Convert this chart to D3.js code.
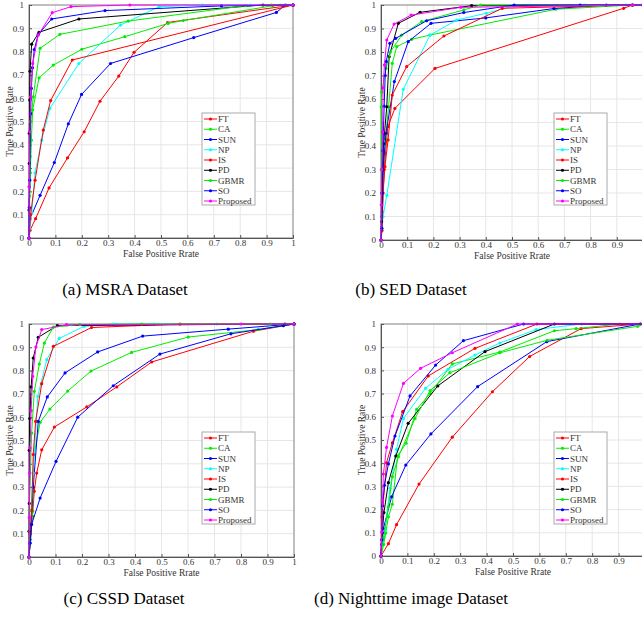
<!DOCTYPE html>
<meta charset="utf-8">
<html>
<head>
<title>ROC curves</title>
<style>
  body { margin: 0; background: #fff; }
</style>
</head>
<body>
<svg width="642" height="622" font-family="'Liberation Serif', 'Times New Roman', serif"></svg>
<script src="https://cdnjs.cloudflare.com/ajax/libs/d3/7.8.5/d3.min.js"></script>
<script>

// methods, in legend order
var methods = ["FT", "CA", "SUN", "NP", "IS", "PD", "GBMR", "SO", "Proposed"];
var colors  = ["#ff0000", "#00ee00", "#0000ff", "#00ffff", "#ff0000", "#000000", "#00ee00", "#0000ff", "#ff00ff"];

var ticks = [0, 0.1, 0.2, 0.3, 0.4, 0.5, 0.6, 0.7, 0.8, 0.9, 1];
var captions = ["(a) MSRA Dataset", "(b) SED Dataset", "(c) CSSD Dataset", "(d) Nighttime image Dataset"];

// [fpr, tpr] points, one list per method (same order as methods)
var msra = [
  [[0,0],[0.004,0.033],[0.025,0.083],[0.076,0.215],[0.146,0.344],[0.209,0.456],[0.269,0.587],[0.34,0.695],[0.398,0.797],[0.525,0.925],[1,1]],
  [[0,0],[0.002,0.13],[0.005,0.28],[0.009,0.42],[0.014,0.55],[0.038,0.687],[0.092,0.742],[0.2,0.81],[0.363,0.864],[0.527,0.921],[0.584,0.933],[0.924,0.997],[1,1]],
  [[0,0],[0.004,0.083],[0.042,0.183],[0.096,0.324],[0.149,0.49],[0.199,0.616],[0.309,0.749],[0.624,0.86],[0.937,0.968],[0.971,1],[1,1]],
  [[0,0],[0.01,0.105],[0.023,0.28],[0.048,0.42],[0.079,0.556],[0.189,0.749],[0.347,0.914],[0.493,0.993],[0.657,1],[0.839,1],[0.952,1],[1,1]],
  [[0,0],[0.006,0.1],[0.023,0.248],[0.054,0.463],[0.082,0.59],[0.164,0.764],[1,1]],
  [[0,0],[0,0.12],[0.001,0.22],[0.001,0.32],[0.001,0.45],[0.003,0.592],[0.004,0.716],[0.01,0.832],[0.038,0.883],[0.189,0.94],[0.886,1],[1,1]],
  [[0,0],[0.002,0.18],[0.004,0.35],[0.007,0.5],[0.016,0.606],[0.042,0.814],[0.117,0.874],[0.376,0.931],[0.82,0.997],[0.918,1],[1,1]],
  [[0,0],[0.001,0.13],[0.003,0.248],[0.006,0.534],[0.009,0.642],[0.013,0.731],[0.02,0.809],[0.035,0.874],[0.086,0.94],[0.288,0.976],[0.729,0.996],[1,1]],
  [[0,0],[0.001,0.22],[0.003,0.456],[0.006,0.606],[0.014,0.749],[0.035,0.871],[0.088,0.967],[0.159,0.993],[0.382,1],[1,1]]
];

var sed = [
  [[0,0],[0.005,0.12],[0.012,0.3],[0.026,0.482],[0.053,0.56],[0.206,0.73],[0.926,0.986],[0.96,1],[1,1]],
  [[0,0],[0.003,0.15],[0.008,0.3],[0.017,0.43],[0.029,0.567],[0.043,0.752],[0.06,0.823],[0.117,0.854],[0.187,0.872],[0.667,0.982],[0.96,1],[1,1]],
  [[0,0],[0.003,0.1],[0.008,0.3],[0.019,0.454],[0.051,0.674],[0.104,0.844],[0.191,0.922],[0.4,0.945],[0.66,0.985],[0.86,1],[1,1]],
  [[0,0],[0.004,0.05],[0.008,0.1],[0.022,0.19],[0.085,0.641],[0.187,0.872],[0.289,0.936],[0.402,0.965],[0.508,0.996],[0.78,1],[0.935,1],[1,1]],
  [[0,0],[0.004,0.04],[0.008,0.2],[0.015,0.312],[0.027,0.426],[0.043,0.617],[0.098,0.738],[0.24,0.868],[0.463,0.986],[0.96,1],[1,1]],
  [[0,0],[0.002,0.078],[0.004,0.2],[0.007,0.3],[0.01,0.41],[0.022,0.567],[0.031,0.78],[0.066,0.922],[0.149,0.969],[0.346,0.997],[0.96,1],[1,1]],
  [[0,0],[0.001,0.3],[0.001,0.567],[0.003,0.63],[0.019,0.73],[0.036,0.8],[0.079,0.872],[0.155,0.929],[0.316,0.979],[0.38,1],[0.96,1],[1,1]],
  [[0,0],[0.003,0.05],[0.004,0.2],[0.007,0.38],[0.012,0.57],[0.016,0.7],[0.02,0.76],[0.034,0.837],[0.056,0.858],[0.174,0.933],[0.316,0.968],[0.508,1],[0.76,1],[1,1]],
  [[0,0],[0.001,0.15],[0.003,0.3],[0.006,0.46],[0.008,0.647],[0.013,0.745],[0.022,0.851],[0.05,0.919],[0.115,0.957],[0.305,0.99],[0.96,1],[1,1]]
];

var cssd = [
  [[0,0],[0.013,0.175],[0.02,0.282],[0.029,0.36],[0.048,0.46],[0.096,0.558],[0.218,0.644],[0.331,0.73],[0.463,0.837],[0.847,0.969],[1,1]],
  [[0,0],[0.006,0.075],[0.014,0.196],[0.019,0.44],[0.042,0.578],[0.079,0.635],[0.146,0.712],[0.234,0.798],[0.387,0.878],[0.601,0.944],[0.865,0.976],[1,1]],
  [[0,0],[0.004,0.06],[0.016,0.3],[0.035,0.582],[0.069,0.687],[0.136,0.79],[0.259,0.88],[0.429,0.948],[0.752,0.978],[1,1]],
  [[0,0],[0.004,0.13],[0.016,0.36],[0.033,0.69],[0.067,0.847],[0.114,0.938],[0.208,0.99],[0.318,1],[0.472,1],[0.708,1],[1,1]],
  [[0,0],[0.004,0.1],[0.01,0.2],[0.016,0.44],[0.025,0.582],[0.048,0.744],[0.092,0.904],[0.236,0.985],[0.57,1],[1,1]],
  [[0,0],[0,0.11],[0.001,0.23],[0.001,0.458],[0.003,0.594],[0.008,0.73],[0.016,0.854],[0.035,0.943],[0.107,0.993],[0.966,1],[1,1]],
  [[0,0],[0.001,0.2],[0.01,0.532],[0.02,0.711],[0.039,0.828],[0.058,0.918],[0.092,0.987],[0.192,0.997],[0.425,1],[0.91,1],[1,1]],
  [[0,0],[0.004,0.06],[0.01,0.14],[0.042,0.253],[0.102,0.41],[0.184,0.6],[0.318,0.735],[0.494,0.871],[0.762,0.958],[0.96,0.993],[1,1]],
  [[0,0],[0.001,0.17],[0.003,0.36],[0.004,0.468],[0.008,0.628],[0.014,0.775],[0.026,0.901],[0.048,0.976],[0.142,0.997],[0.8,1],[1,1]]
];

var night = [
  [[0,0],[0.028,0.053],[0.059,0.135],[0.144,0.31],[0.27,0.512],[0.422,0.708],[0.563,0.86],[0.758,0.98],[0.982,1],[1,1]],
  [[0,0],[0.01,0.05],[0.018,0.099],[0.028,0.169],[0.043,0.223],[0.063,0.432],[0.095,0.486],[0.135,0.632],[0.186,0.7],[0.27,0.828],[0.45,0.879],[0.657,0.971],[0.739,0.98],[0.903,1],[1,1]],
  [[0,0],[0.003,0.05],[0.009,0.118],[0.04,0.255],[0.094,0.392],[0.189,0.526],[0.366,0.73],[0.628,0.924],[0.982,1],[1,1]],
  [[0,0],[0.015,0.11],[0.034,0.292],[0.059,0.46],[0.085,0.593],[0.169,0.723],[0.254,0.805],[0.356,0.866],[0.45,0.918],[0.588,0.976],[0.76,1],[1,1]],
  [[0,0],[0.004,0.169],[0.021,0.402],[0.043,0.488],[0.082,0.622],[0.179,0.776],[0.356,0.895],[0.591,1],[1,1]],
  [[0,0],[0.005,0.1],[0.011,0.187],[0.028,0.316],[0.056,0.431],[0.103,0.572],[0.215,0.733],[0.394,0.881],[0.657,1],[1,1]],
  [[0,0],[0.01,0.08],[0.028,0.212],[0.043,0.342],[0.066,0.428],[0.129,0.593],[0.186,0.713],[0.261,0.79],[0.451,0.876],[0.63,0.93],[0.972,0.99],[1,1]],
  [[0,0],[0.003,0.07],[0.006,0.216],[0.013,0.305],[0.028,0.397],[0.053,0.517],[0.11,0.69],[0.207,0.823],[0.312,0.928],[0.54,1],[1,1]],
  [[0,0],[0.003,0.104],[0.006,0.24],[0.009,0.353],[0.021,0.468],[0.043,0.603],[0.085,0.744],[0.15,0.809],[0.27,0.876],[0.516,1],[1,1]]
];

var datasets = [msra, sed, cssd, night];

// panel frames in page pixels: left, right (x=1), top (y=1), bottom (y=0)
var frames = [
  {l: 29,  r: 293, t: 5,   b: 238, cx: 125, cy: 295},
  {l: 381, r: 643, t: 5,   b: 240, cx: 411, cy: 295},
  {l: 29,  r: 294, t: 324, b: 557, cx: 124, cy: 604},
  {l: 381, r: 645, t: 324, b: 556, cx: 411, cy: 604}
];

var FONT = "'Liberation Serif', 'Times New Roman', serif";
var svg = d3.select("svg");

datasets.forEach(function(data, k) {
  var f = frames[k];
  var x = d3.scaleLinear().domain([0, 1]).range([f.l, f.r]);
  var y = d3.scaleLinear().domain([0, 1]).range([f.b, f.t]);
  var g = svg.append("g");

  // grid
  ticks.forEach(function(t) {
    g.append("line").attr("x1", x(t)).attr("x2", x(t)).attr("y1", f.t).attr("y2", f.b)
      .attr("stroke", "#e6e6e6").attr("stroke-width", 1);
    g.append("line").attr("x1", f.l).attr("x2", f.r).attr("y1", y(t)).attr("y2", y(t))
      .attr("stroke", "#e6e6e6").attr("stroke-width", 1);
  });

  // box
  g.append("rect").attr("x", f.l).attr("y", f.t)
    .attr("width", f.r - f.l).attr("height", f.b - f.t)
    .attr("fill", "none").attr("stroke", "#8a8a8a").attr("stroke-width", 1);

  // axes
  var fmt = function(d) { return String(+d.toFixed(1)); };
  var xAxis = d3.axisBottom(x).tickValues(ticks).tickSize(-3).tickPadding(2).tickFormat(fmt);
  var yAxis = d3.axisLeft(y).tickValues(ticks).tickSize(-3).tickPadding(5).tickFormat(fmt);

  var gx = g.append("g").attr("transform", "translate(0," + f.b + ")").call(xAxis);
  var gy = g.append("g").attr("transform", "translate(" + f.l + ",0)").call(yAxis);
  [gx, gy].forEach(function(a) {
    a.attr("font-family", FONT).attr("font-size", 9);
    a.select(".domain").attr("stroke", "#555");
    a.selectAll(".tick line").attr("stroke", "#555");
    a.selectAll("text").attr("fill", "#333");
  });
  gx.selectAll(".tick").filter(function(d) { return x(d) > 638; }).select("text").remove();

  g.append("text").attr("x", (f.l + f.r) / 2).attr("y", f.b + 18.5)
    .attr("text-anchor", "middle").attr("fill", "#333")
    .attr("font-family", FONT).attr("font-size", 9.5)
    .text("False Positive Rrate");
  g.append("text")
    .attr("transform", "translate(" + (f.l - 16) + "," + ((f.t + f.b) / 2) + ") rotate(-90)")
    .attr("text-anchor", "middle").attr("fill", "#333")
    .attr("font-family", FONT).attr("font-size", 9.5)
    .text("True Positive Rate");

  // curves
  var line = d3.line().x(function(d) { return x(d[0]); }).y(function(d) { return y(d[1]); });
  data.forEach(function(pts, i) {
    g.append("path").datum(pts).attr("d", line)
      .attr("fill", "none").attr("stroke", colors[i]).attr("stroke-width", 1);
    g.selectAll(null).data(pts).enter().append("circle")
      .attr("cx", function(d) { return x(d[0]); })
      .attr("cy", function(d) { return y(d[1]); })
      .attr("r", 1.6).attr("fill", colors[i]);
  });

  // legend
  var lx = f.l + 173, ly = f.t + 108, step = 10.25;
  var lg = g.append("g");
  lg.append("rect").attr("x", lx).attr("y", ly).attr("width", 53).attr("height", 92)
    .attr("fill", "#fff").attr("stroke", "#aaa").attr("stroke-width", 1);
  methods.forEach(function(m, i) {
    var yy = ly + 6 + i * step;
    lg.append("line").attr("x1", lx + 2).attr("x2", lx + 15).attr("y1", yy).attr("y2", yy)
      .attr("stroke", colors[i]).attr("stroke-width", 1);
    lg.append("circle").attr("cx", lx + 8.5).attr("cy", yy).attr("r", 1.6).attr("fill", colors[i]);
    lg.append("text").attr("x", lx + 16).attr("y", yy + 3).attr("fill", "#333")
      .attr("font-family", FONT).attr("font-size", 9).text(m);
  });

  // caption
  svg.append("text").attr("x", f.cx).attr("y", f.cy).attr("text-anchor", "middle")
    .attr("fill", "#000").attr("font-family", FONT).attr("font-size", 17)
    .text(captions[k]);
});

</script>
</body>
</html>
